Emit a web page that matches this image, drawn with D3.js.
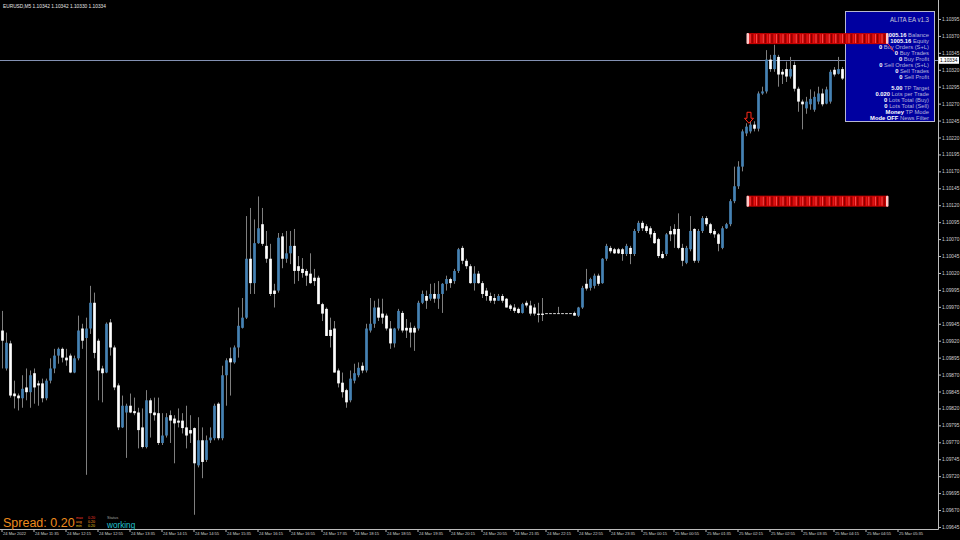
<!DOCTYPE html>
<html><head><meta charset="utf-8">
<script src="https://cdn.jsdelivr.net/npm/d3@7"></script>
<style>html,body{margin:0;padding:0;background:#000;overflow:hidden}</style>
</head><body>
<svg id="chart" width="960" height="540"></svg>
<script>
// ---------------- DATA ----------------
const symbolTitle = "EURUSD,M5  1.10342 1.10342 1.10330 1.10334";

const opens = [
1.09935,1.09879,1.09916,1.09842,1.09839,1.09835,1.09851,1.09844,1.09872,1.09857,
1.09857,1.09835,1.09861,1.09879,1.09898,1.09908,1.09895,1.09898,1.09873,1.09894,
1.09938,1.09924,1.09938,1.09976,1.09920,1.09879,1.09873,1.09947,1.09910,1.09854,
1.09792,1.09814,1.09824,1.09816,1.09814,1.09792,1.09763,1.09832,1.09814,1.09813,
1.09769,1.09780,1.09810,1.09805,1.09802,1.09802,1.09792,1.09788,1.09791,1.09736,
1.09773,1.09744,1.09773,1.09776,1.09827,1.09776,1.09869,1.09894,1.09888,1.09910,
1.09939,1.09954,1.10041,1.10005,1.10064,1.10092,1.10060,1.10041,1.09994,1.09994,
1.10074,1.10041,1.10049,1.10060,1.10030,1.10026,1.10023,1.10019,1.10013,1.10013,
1.09974,1.09967,1.09936,1.09938,1.09876,1.09858,1.09847,1.09832,1.09861,1.09869,
1.09883,1.09876,1.09935,1.09945,1.09969,1.09960,1.09957,1.09938,1.09916,1.09938,
1.09961,1.09939,1.09939,1.09939,1.09938,1.09976,1.09986,1.09982,1.09989,1.09982,
1.09989,1.10004,1.10011,1.10008,1.10023,1.10057,1.10038,1.10030,1.10005,1.10019,
1.10005,1.09994,1.09986,1.09983,1.09979,1.09986,1.09982,1.09972,1.09969,1.09967,
1.09961,1.09976,1.09972,1.09969,1.09960,1.09960,1.09960,1.09960,1.09960,1.09960,
1.09960,1.09960,1.09960,1.09961,1.09957,1.09969,1.10004,1.09998,1.10001,1.10016,
1.10005,1.10041,1.10057,1.10055,1.10055,1.10055,1.10048,1.10057,1.10048,1.10082,
1.10094,1.10089,1.10086,1.10079,1.10070,1.10048,1.10048,1.10082,1.10085,1.10085,
1.10057,1.10035,1.10055,1.10085,1.10038,1.10082,1.10101,1.10092,1.10082,1.10077,
1.10057,1.10086,1.10092,1.10126,1.10148,1.10177,1.10226,1.10229,1.10239,1.10233,
1.10285,1.10288,1.10335,1.10321,1.10339,1.10317,1.10321,1.10310,1.10327,1.10292,
1.10273,1.10263,1.10269,1.10261,1.10273,1.10285,1.10270,1.10273,1.10320,1.10314,1.10321];

const highs = [
1.09964,1.09932,1.09920,1.09861,1.09842,1.09869,1.09879,1.09876,1.09879,1.09861,
1.09864,1.09864,1.09894,1.09908,1.09910,1.09910,1.09908,1.09901,1.09898,1.09957,
1.09945,1.09954,1.10001,1.09991,1.09923,1.09883,1.09947,1.09952,1.09913,1.09857,
1.09839,1.09827,1.09842,1.09836,1.09821,1.09820,1.09847,1.09835,1.09836,1.09836,
1.09813,1.09813,1.09817,1.09810,1.09820,1.09813,1.09824,1.09810,1.09792,1.09807,
1.09792,1.09780,1.09792,1.09827,1.09829,1.09883,1.09894,1.09910,1.09913,1.09969,
1.09983,1.10104,1.10116,1.10099,1.10133,1.10116,1.10082,1.10063,1.10004,1.10079,
1.10079,1.10082,1.10082,1.10085,1.10045,1.10042,1.10026,1.10049,1.10026,1.10016,
1.09976,1.09969,1.09954,1.09949,1.09879,1.09873,1.09849,1.09876,1.09886,1.09888,
1.09888,1.09945,1.09983,1.09979,1.09982,1.09982,1.09960,1.09949,1.09939,1.09967,
1.09964,1.09952,1.09947,1.09942,1.09979,1.09994,1.09994,1.10004,1.10005,1.10008,
1.10005,1.10016,1.10013,1.10026,1.10057,1.10060,1.10041,1.10033,1.10030,1.10023,
1.10008,1.09998,1.09991,1.09989,1.09989,1.09989,1.09983,1.09974,1.09974,1.09969,
1.09976,1.09979,1.09979,1.09974,1.09976,1.09983,1.09960,1.09960,1.09960,1.09970,
1.09960,1.09960,1.09960,1.09963,1.09970,1.10001,1.10026,1.10013,1.10019,1.10019,
1.10042,1.10063,1.10060,1.10057,1.10057,1.10057,1.10063,1.10060,1.10085,1.10097,
1.10097,1.10092,1.10089,1.10082,1.10072,1.10052,1.10079,1.10089,1.10092,1.10108,
1.10063,1.10060,1.10104,1.10086,1.10085,1.10104,1.10104,1.10094,1.10085,1.10079,
1.10089,1.10094,1.10129,1.10177,1.10185,1.10232,1.10241,1.10244,1.10244,1.10288,
1.10295,1.10349,1.10342,1.10357,1.10342,1.10321,1.10332,1.10339,1.10332,1.10295,
1.10276,1.10280,1.10291,1.10288,1.10295,1.10292,1.10295,1.10320,1.10324,1.10339,1.10324];

const lows = [
1.09879,1.09876,1.09836,1.09820,1.09817,1.09821,1.09832,1.09821,1.09827,1.09824,
1.09829,1.09832,1.09857,1.09872,1.09886,1.09888,1.09883,1.09872,1.09872,1.09891,
1.09908,1.09722,1.09930,1.09894,1.09832,1.09829,1.09872,1.09898,1.09847,1.09788,
1.09791,1.09747,1.09813,1.09810,1.09761,1.09761,1.09761,1.09777,1.09802,1.09766,
1.09766,1.09777,1.09769,1.09739,1.09792,1.09783,1.09761,1.09769,1.09663,1.09733,
1.09717,1.09741,1.09769,1.09773,1.09773,1.09773,1.09824,1.09839,1.09886,1.09895,
1.09938,1.09952,1.09989,1.09989,1.10063,1.10060,1.10035,1.09986,1.09969,1.09991,
1.10027,1.10035,1.10033,1.10004,1.10008,1.10013,1.10001,1.10004,1.10001,1.09974,
1.09949,1.09927,1.09910,1.09873,1.09851,1.09836,1.09821,1.09829,1.09857,1.09866,
1.09872,1.09873,1.09932,1.09939,1.09949,1.09945,1.09935,1.09908,1.09910,1.09935,
1.09932,1.09924,1.09910,1.09905,1.09935,1.09974,1.09967,1.09979,1.09976,1.09967,
1.09961,1.09994,1.09998,1.10004,1.10020,1.10033,1.10026,1.10004,1.09994,1.10004,
1.09983,1.09979,1.09976,1.09974,1.09979,1.09976,1.09969,1.09964,1.09961,1.09960,
1.09960,1.09969,1.09957,1.09957,1.09947,1.09949,1.09960,1.09960,1.09960,1.09960,
1.09960,1.09960,1.09960,1.09957,1.09955,1.09967,1.09994,1.09994,1.09997,1.10001,
1.10004,1.10038,1.10049,1.10048,1.10048,1.10038,1.10045,1.10033,1.10045,1.10079,
1.10082,1.10079,1.10072,1.10063,1.10042,1.10041,1.10045,1.10067,1.10057,1.10055,
1.10030,1.10033,1.10052,1.10035,1.10035,1.10079,1.10089,1.10077,1.10072,1.10052,
1.10055,1.10085,1.10089,1.10123,1.10144,1.10170,1.10222,1.10226,1.10229,1.10229,
1.10283,1.10285,1.10317,1.10317,1.10295,1.10299,1.10302,1.10307,1.10288,1.10258,
1.10232,1.10255,1.10261,1.10258,1.10269,1.10266,1.10269,1.10270,1.10310,1.10313,1.10305];

const closes = [
1.09920,1.09917,1.09839,1.09838,1.09835,1.09849,1.09844,1.09869,1.09851,1.09854,
1.09835,1.09861,1.09879,1.09898,1.09908,1.09895,1.09891,1.09873,1.09894,1.09935,
1.09920,1.09938,1.09976,1.09902,1.09876,1.09872,1.09945,1.09910,1.09851,1.09792,
1.09824,1.09824,1.09814,1.09813,1.09788,1.09763,1.09832,1.09813,1.09810,1.09769,
1.09780,1.09807,1.09802,1.09798,1.09799,1.09791,1.09780,1.09783,1.09739,1.09773,
1.09741,1.09773,1.09777,1.09824,1.09776,1.09869,1.09891,1.09888,1.09910,1.09942,
1.09954,1.10041,1.10005,1.10064,1.10086,1.10063,1.10041,1.09989,1.09989,1.10072,
1.10041,1.10049,1.10060,1.10023,1.10023,1.10020,1.10016,1.10005,1.10008,1.09974,
1.09960,1.09927,1.09927,1.09873,1.09857,1.09844,1.09829,1.09864,1.09872,1.09880,
1.09876,1.09938,1.09945,1.09969,1.09954,1.09954,1.09938,1.09916,1.09938,1.09964,
1.09935,1.09935,1.09932,1.09932,1.09976,1.09989,1.09979,1.09989,1.09982,1.09989,
1.10004,1.10011,1.10005,1.10023,1.10055,1.10038,1.10030,1.10005,1.10019,1.10005,
1.09989,1.09986,1.09979,1.09979,1.09986,1.09979,1.09969,1.09967,1.09964,1.09961,
1.09974,1.09972,1.09960,1.09960,1.09958,1.09958,1.09960,1.09960,1.09960,1.09960,
1.09960,1.09960,1.09960,1.09957,1.09969,1.09998,1.09997,1.10011,1.10016,1.10004,
1.10041,1.10060,1.10052,1.10049,1.10049,1.10048,1.10060,1.10048,1.10082,1.10094,
1.10086,1.10082,1.10077,1.10064,1.10045,1.10042,1.10077,1.10077,1.10077,1.10057,
1.10038,1.10057,1.10082,1.10038,1.10082,1.10101,1.10092,1.10079,1.10077,1.10063,
1.10086,1.10092,1.10126,1.10148,1.10177,1.10229,1.10236,1.10239,1.10233,1.10285,
1.10288,1.10335,1.10321,1.10342,1.10313,1.10313,1.10310,1.10321,1.10292,1.10273,
1.10269,1.10273,1.10277,1.10280,1.10285,1.10269,1.10291,1.10317,1.10313,1.10321,1.10307];

const timeLabels = ["24 Mar 2022","24 Mar 11:35","24 Mar 12:15","24 Mar 12:55","24 Mar 13:35",
"24 Mar 14:15","24 Mar 14:55","24 Mar 15:35","24 Mar 16:15","24 Mar 16:55","24 Mar 17:35",
"24 Mar 18:15","24 Mar 18:55","24 Mar 19:35","24 Mar 20:15","24 Mar 20:55","24 Mar 21:35",
"24 Mar 22:15","24 Mar 22:55","24 Mar 23:35","25 Mar 00:15","25 Mar 00:55","25 Mar 01:35",
"25 Mar 02:15","25 Mar 02:55","25 Mar 03:35","25 Mar 04:15","25 Mar 04:55","25 Mar 05:35"];
const barsPerLabel = 8;

const priceTicks = [1.09645,1.09670,1.09695,1.09720,1.09745,1.09770,1.09795,1.09820,1.09845,
1.09870,1.09895,1.09920,1.09945,1.09970,1.09995,1.10020,1.10045,1.10070,1.10095,1.10120,
1.10145,1.10170,1.10195,1.10220,1.10245,1.10270,1.10295,1.10320,1.10345,1.10370,1.10395];

const bidPrice = 1.10334;
const tradeLevels = [1.10366, 1.10126];
const levelFromBar = 186.25, levelToBar = 221.5;
const signalBar = 187, signalPrice = 1.10241;

const panelTitle = "ALITA EA v1.3";
const panelValues = ["1005.16","1005.16","0","0","0","0","0","0","5.00","0.020","0","0","Money","Mode OFF"];
const panelLabels = ["Balance","Equity","Buy Orders (S+L)","Buy Trades","Buy Profit","Sell Orders (S+L)",
"Sell Trades","Sell Profit","TP Target","Lots per Trade","Lots Total (Buy)","Lots Total (Sell)","TP Mode","News Filter"];

const spreadText = "Spread: 0.20";
const spreadStatNames = ["max","avg","min"];
const spreadStatValues = ["0.20","0.20","0.20"];
const statusTitle = "Status", statusText = "working";

// ---------------- DRAW ----------------
const W = 960, H = 540, plotRight = 938, plotBottom = 529;
const FONT = "'Liberation Sans', Arial, sans-serif";
const svg = d3.select("#chart");
svg.append("rect").attr("width", W).attr("height", H).attr("fill", "#000");

const x = d3.scaleLinear().domain([0, 234]).range([2, 938]);
const y = d3.scaleLinear().domain([1.09642, 1.10423]).range([plotBottom, 0]);

// bid line
svg.append("line").attr("x1", 0).attr("x2", plotRight)
  .attr("y1", Math.round(y(bidPrice)) + 0.5).attr("y2", Math.round(y(bidPrice)) + 0.5)
  .attr("stroke", "#8391b3").attr("stroke-width", 1);

// candles
const bars = opens.map((o, i) => ({i, o, h: highs[i], l: lows[i], c: closes[i]}));
const cg = svg.append("g");
cg.selectAll("line").data(bars).join("line")
  .attr("x1", d => x(d.i) + 0.5).attr("x2", d => x(d.i) + 0.5)
  .attr("y1", d => y(d.h)).attr("y2", d => y(d.l))
  .attr("stroke", "#7f7f7f").attr("stroke-width", 1);
cg.selectAll("rect").data(bars).join("rect")
  .attr("x", d => x(d.i) + 0.5 - 1.35).attr("width", 2.7)
  .attr("y", d => d.o === d.c ? y(d.o) - 0.5 : y(Math.max(d.o, d.c)))
  .attr("height", d => Math.max(1, Math.abs(y(d.o) - y(d.c))))
  .attr("fill", d => d.c > d.o ? "#4682b4" : (d.c < d.o ? "#ffffff" : "#d8d8d8"));

// signal arrow (hollow down arrow)
{
  const cx = x(signalBar) - 1, ty = y(signalPrice);
  const p = d3.path();
  p.moveTo(cx - 2, ty - 11); p.lineTo(cx + 2, ty - 11); p.lineTo(cx + 2, ty - 5);
  p.lineTo(cx + 4.5, ty - 5); p.lineTo(cx, ty); p.lineTo(cx - 4.5, ty - 5);
  p.lineTo(cx - 2, ty - 5); p.closePath();
  svg.append("path").attr("d", p.toString()).attr("fill", "none")
    .attr("stroke", "#ff2a1a").attr("stroke-width", 1);
}

// axes
const yAxis = d3.axisRight(y).tickValues(priceTicks).tickFormat(d3.format(".5f"))
  .tickSize(3).tickSizeOuter(0).tickPadding(1);
const ya = svg.append("g").attr("transform", `translate(${plotRight},0)`).call(yAxis);
ya.select(".domain").remove();
ya.selectAll("line").attr("stroke", "#bdbdbd");
ya.selectAll("text").attr("fill", "#d0d0d0").attr("font-size", 4.8).attr("font-family", FONT);

const xAxis = d3.axisBottom(x).tickValues(timeLabels.map((_, k) => k * barsPerLabel))
  .tickFormat((d, k) => timeLabels[k]).tickSize(3).tickSizeOuter(0).tickPadding(0);
const xa = svg.append("g").attr("transform", `translate(0,${plotBottom})`).call(xAxis);
xa.select(".domain").remove();
xa.selectAll("line").attr("stroke", "#bdbdbd").attr("transform", "translate(-0.5,0)");
xa.selectAll("text").attr("fill", "#d0d0d0").attr("font-size", 4.1).attr("font-family", FONT)
  .attr("text-anchor", "start").attr("dx", 0.5);

svg.append("line").attr("x1", plotRight + 0.5).attr("x2", plotRight + 0.5).attr("y1", 0).attr("y2", plotBottom + 0.5)
  .attr("stroke", "#bdbdbd");
svg.append("line").attr("x1", 0).attr("x2", plotRight + 0.5).attr("y1", plotBottom + 0.5).attr("y2", plotBottom + 0.5)
  .attr("stroke", "#bdbdbd");

// bid label
{
  const by = y(bidPrice);
  svg.append("rect").attr("x", plotRight + 0.5).attr("y", by - 3.5).attr("width", 20.5).attr("height", 7)
    .attr("fill", "#ffffff");
  svg.append("text").attr("x", plotRight + 2).attr("y", by).attr("dy", "0.35em")
    .attr("font-size", 4.8).attr("font-family", FONT).attr("fill", "#000").text(d3.format(".5f")(bidPrice));
}

// header
svg.append("text").attr("x", 3).attr("y", 7.5).attr("fill", "#e6e6e6")
  .attr("font-size", 4.8).attr("font-family", FONT).text(symbolTitle);

// info panel
const panel = svg.append("g");
panel.append("rect").attr("x", 845.5).attr("y", 11.5).attr("width", 89).attr("height", 110)
  .attr("fill", "#0000a0").attr("stroke", "#b8b8d0").attr("stroke-width", 1);
panel.append("text").attr("x", 929).attr("y", 21.5).attr("text-anchor", "end")
  .attr("fill", "#c9c9d9").attr("font-size", 7.5).attr("font-family", FONT)
  .attr("textLength", 39).attr("lengthAdjust", "spacingAndGlyphs").text(panelTitle);
panelValues.forEach((v, k) => {
  const ty = 35 + 6.05 * k + (k >= 8 ? 4.3 : 0);
  const t = panel.append("text").attr("x", 929).attr("y", ty).attr("dy", "0.35em")
    .attr("text-anchor", "end").attr("font-size", 5.8).attr("font-family", FONT);
  t.append("tspan").attr("fill", "#ffffff").attr("font-weight", "bold").text(v + " ");
  t.append("tspan").attr("fill", "#b4b4dc").text(panelLabels[k]);
});

// trade level bands (drawn over panel)
tradeLevels.forEach((lv, k) => {
  const cy = y(lv), x0 = x(levelFromBar), x1 = x(levelToBar);
  const g = svg.append("g");
  g.append("rect").attr("x", x0).attr("y", cy - 5.5).attr("width", x1 - x0).attr("height", 11)
    .attr("fill", "#c80000");
  g.selectAll("line").data(d3.range(x0 + 3, x1 - 2, 2.2)).join("line")
    .attr("x1", d => d).attr("x2", d => d).attr("y1", cy - 4.5).attr("y2", cy + 4.5)
    .attr("stroke", (d, j) => j % 3 === 0 ? "#ff5a5a" : (j % 3 === 1 ? "#7a0000" : "#e82020"))
    .attr("stroke-width", 0.9);
  g.append("rect").attr("x", x0 - 0.5).attr("y", cy - 5.5).attr("width", 2.5).attr("height", 11)
    .attr("rx", 1).attr("fill", "#ffc8c8");
  g.append("rect").attr("x", x1 - 2).attr("y", cy - 5.5).attr("width", 2.5).attr("height", 11)
    .attr("rx", 1).attr("fill", "#ffc8c8");
  if (k === 0) {
    g.append("line").attr("x1", x1).attr("y1", cy + 5).attr("x2", x1 + 6).attr("y2", cy + 13)
      .attr("stroke", "#ff3030").attr("stroke-width", 1);
  }
});

// spread / status
svg.append("text").attr("x", 3).attr("y", 527).attr("fill", "#ee8a1c")
  .attr("font-size", 12.5).attr("font-family", FONT).text(spreadText);
const statColors = ["#ff3b2e", "#ff9a22", "#e9c31c"];
spreadStatNames.forEach((s, k) => {
  svg.append("text").attr("x", 76).attr("y", 518.5 + k * 4).attr("fill", statColors[k])
    .attr("font-size", 3.6).attr("font-family", FONT).text(s);
  svg.append("text").attr("x", 88).attr("y", 518.5 + k * 4).attr("fill", statColors[k])
    .attr("font-size", 3.6).attr("font-family", FONT).text(spreadStatValues[k]);
});
svg.append("text").attr("x", 107).attr("y", 519).attr("fill", "#a0a0a0")
  .attr("font-size", 4).attr("font-family", FONT).text(statusTitle);
svg.append("text").attr("x", 107).attr("y", 527.5).attr("fill", "#22c3d2")
  .attr("font-size", 8.2).attr("font-family", FONT).text(statusText);
</script>
</body></html>
